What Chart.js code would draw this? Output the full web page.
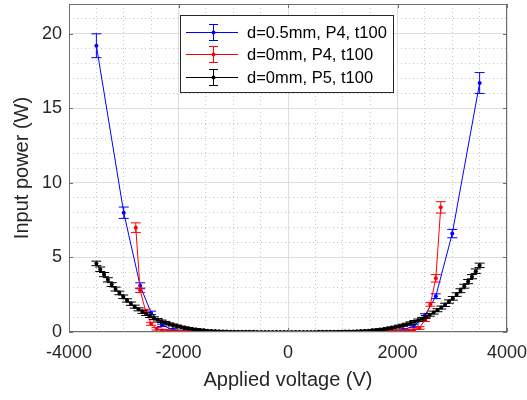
<!DOCTYPE html>
<html>
<head>
<meta charset="utf-8">
<script src="https://cdn.jsdelivr.net/npm/chart.js@4.4.1/dist/chart.umd.min.js"></script>
<style>
  html, body { margin: 0; padding: 0; background: #fff; }
  canvas { display: block; }
</style>
</head>
<body>
<canvas id="grafico" width="527" height="400"></canvas>
<script>
// Serie azul: d=0.5mm, P4, t100
const blueV = [-3500, -3000, -2700, -2500, -2300, -2100, -1900, -1700, 1700, 1900, 2100, 2300, 2500, 2700, 3000, 3500];
const blueP = [19.2, 8.0, 3.1, 1.28, 0.45, 0.16, 0.07, 0.03, 0.03, 0.07, 0.15, 0.4, 1.1, 2.4, 6.6, 16.7];
const blueErr = [0.8, 0.38, 0.2, 0.12, 0.08, 0.06, 0.05, 0.05, 0.05, 0.05, 0.06, 0.08, 0.12, 0.16, 0.28, 0.7];

// Serie roja: d=0mm, P4, t100
const redV = [-2780, -2700, -2600, -2500, -2400, -2300, -2200, -2100, -2000, -1900, -1800, -1700, -1600, -1500,
  1000, 1100, 1200, 1300, 1400, 1500, 1600, 1700, 1800, 1900, 2000, 2100, 2200, 2300, 2400, 2500, 2600, 2700, 2790];
const redP = [7.0, 2.8, 1.4, 0.55, 0.22, 0.1, 0.06, 0.04, 0.03, 0.03, 0.02, 0.02, 0.02, 0.02,
  0.02, 0.02, 0.02, 0.02, 0.03, 0.03, 0.03, 0.03, 0.04, 0.04, 0.05, 0.06, 0.08, 0.12, 0.27, 0.8, 1.85, 3.6, 8.36];
const redErr = [0.32, 0.15, 0.12, 0.1, 0.09, 0.08, 0.08, 0.08, 0.08, 0.08, 0.08, 0.08, 0.08, 0.08,
  0.08, 0.08, 0.08, 0.08, 0.08, 0.08, 0.08, 0.08, 0.08, 0.08, 0.08, 0.08, 0.08, 0.08, 0.09, 0.1, 0.12, 0.25, 0.38];

// Serie negra: d=0mm, P5, t100
const blackV = [-3500, -3430, -3360, -3290, -3220, -3150, -3080, -3010, -2940, -2870, -2800, -2730, -2660, -2590, -2520,
  -2450, -2380, -2310, -2240, -2170, -2100, -2030, -1960, -1890, -1820, -1750, -1680, -1610, -1540, -1470, -1400,
  -1330, -1260, -1190, -1120, -1050, -980, -910, -840, -770, -700, -630, -560, -490, -420, -350, -280, -210, -140, -70,
  0,
  70, 140, 210, 280, 350, 420, 490, 560, 630, 700, 770, 840, 910, 980, 1050, 1120, 1190, 1260, 1330, 1400,
  1470, 1540, 1610, 1680, 1750, 1820, 1890, 1960, 2030, 2100, 2170, 2240, 2310, 2380, 2450, 2520, 2590, 2660,
  2730, 2800, 2870, 2940, 3010, 3080, 3150, 3220, 3290, 3360, 3430, 3500];
const blackP = [4.60, 4.21, 3.85, 3.50, 3.18, 2.88, 2.62, 2.36, 2.12, 1.90, 1.70, 1.52, 1.35, 1.20, 1.06,
  0.93, 0.82, 0.72, 0.63, 0.54, 0.47, 0.40, 0.34, 0.29, 0.24, 0.20, 0.17, 0.14, 0.11, 0.09, 0.07,
  0.06, 0.05, 0.04, 0.03, 0.02, 0.02, 0.01, 0.01, 0.01, 0.01, 0.01, 0, 0, 0, 0, 0, 0, 0, 0,
  0,
  0, 0, 0, 0, 0, 0, 0, 0.01, 0.01, 0.01, 0.01, 0.01, 0.02, 0.02, 0.03, 0.03, 0.04, 0.05, 0.06, 0.07,
  0.09, 0.11, 0.14, 0.16, 0.19, 0.23, 0.28, 0.33, 0.39, 0.45, 0.52, 0.60, 0.69, 0.79, 0.89, 1.02, 1.15, 1.30,
  1.46, 1.64, 1.82, 2.04, 2.26, 2.51, 2.77, 3.07, 3.38, 3.71, 4.08, 4.47];
const blackErr = [0.15, 0.15, 0.14, 0.14, 0.13, 0.13, 0.12, 0.12, 0.11, 0.11, 0.1, 0.1, 0.1, 0.09, 0.09,
  0.09, 0.08, 0.08, 0.08, 0.07, 0.07, 0.07, 0.06, 0.06, 0.06, 0.05, 0.05, 0.05, 0.05, 0.04, 0.04,
  0.04, 0.04, 0.04, 0.04, 0.04, 0.04, 0.04, 0.04, 0.04, 0.04, 0.04, 0.04, 0.04, 0.04, 0.04, 0.04, 0.04, 0.04, 0.04,
  0.04,
  0.04, 0.04, 0.04, 0.04, 0.04, 0.04, 0.04, 0.04, 0.04, 0.04, 0.04, 0.04, 0.04, 0.04, 0.04, 0.04, 0.04, 0.04, 0.04, 0.04,
  0.04, 0.05, 0.05, 0.05, 0.05, 0.06, 0.06, 0.06, 0.07, 0.07, 0.07, 0.08, 0.08, 0.08, 0.09, 0.09, 0.09, 0.1,
  0.1, 0.1, 0.11, 0.11, 0.12, 0.12, 0.13, 0.13, 0.14, 0.14, 0.15, 0.15];

const etiquetas = ["d=0.5mm, P4, t100", "d=0mm, P4, t100", "d=0mm, P5, t100"];
const colores = ["#0000ff", "#ff0000", "#000000"];

const xTicksMayores = [-4000, -2000, 0, 2000, 4000];
const yTicksMayores = [0, 5, 10, 15, 20];

const toPts = (xs, ys) => xs.map((x, i) => ({ x: x, y: ys[i] }));

// Barras de error dibujadas con las escalas de Chart.js
const barrasError = {
    id: 'barrasError',
    afterDatasetDraw(chart, args) {
        const ds = chart.data.datasets[args.index];
        if (!ds.errores) return;
        const { ctx, chartArea } = chart;
        const yScale = chart.scales.y;
        ctx.save();
        ctx.beginPath();
        ctx.rect(chartArea.left, chartArea.top, chartArea.right - chartArea.left, chartArea.bottom - chartArea.top);
        ctx.clip();
        ctx.strokeStyle = ds.borderColor;
        ctx.lineWidth = 1;
        const cap = 5;
        args.meta.data.forEach((pt, i) => {
            const v = ds.data[i].y, e = ds.errores[i];
            const y1 = yScale.getPixelForValue(v + e);
            const y2 = yScale.getPixelForValue(v - e);
            ctx.beginPath();
            ctx.moveTo(pt.x, y1); ctx.lineTo(pt.x, y2);
            ctx.moveTo(pt.x - cap, y1); ctx.lineTo(pt.x + cap, y1);
            ctx.moveTo(pt.x - cap, y2); ctx.lineTo(pt.x + cap, y2);
            ctx.stroke();
        });
        ctx.restore();
    }
};

// Caja de ejes estilo MATLAB y leyenda
const cajaYLeyenda = {
    id: 'cajaYLeyenda',
    afterDraw(chart) {
        const { ctx, chartArea: a } = chart;
        const xs = chart.scales.x, ys = chart.scales.y;
        ctx.save();
        ctx.strokeStyle = '#6e6e6e';
        ctx.lineWidth = 1;
        ctx.strokeRect(a.left + 0.5, a.top + 0.5, a.right - a.left - 1, a.bottom - a.top - 1);
        ctx.beginPath();
        xTicksMayores.forEach(t => {
            const px = Math.round(xs.getPixelForValue(t)) + 0.5;
            ctx.moveTo(px, a.bottom); ctx.lineTo(px, a.bottom - 4);
            ctx.moveTo(px, a.top); ctx.lineTo(px, a.top + 4);
        });
        yTicksMayores.forEach(t => {
            const py = Math.round(ys.getPixelForValue(t)) + 0.5;
            ctx.moveTo(a.left, py); ctx.lineTo(a.left + 4, py);
            ctx.moveTo(a.right, py); ctx.lineTo(a.right - 4, py);
        });
        ctx.stroke();

        // leyenda
        const lx = 180, ly = 15, lw = 213, lh = 77;
        ctx.fillStyle = '#ffffff';
        ctx.fillRect(lx, ly, lw, lh);
        ctx.strokeStyle = '#262626';
        ctx.strokeRect(lx + 0.5, ly + 0.5, lw, lh);
        const filas = [32, 54, 77];
        ctx.font = '16.5px "Liberation Sans", Arial, sans-serif';
        ctx.textBaseline = 'middle';
        etiquetas.forEach((txt, i) => {
            const y = filas[i];
            ctx.strokeStyle = colores[i];
            ctx.fillStyle = colores[i];
            ctx.lineWidth = 1;
            ctx.beginPath();
            ctx.moveTo(186, y + 0.5); ctx.lineTo(238, y + 0.5);
            ctx.moveTo(213.5, y - 8); ctx.lineTo(213.5, y + 8);
            ctx.moveTo(209, y - 8 + 0.5); ctx.lineTo(218, y - 8 + 0.5);
            ctx.moveTo(209, y + 8 + 0.5); ctx.lineTo(218, y + 8 + 0.5);
            ctx.stroke();
            ctx.beginPath();
            ctx.arc(213.5, y + 0.5, 2, 0, Math.PI * 2);
            ctx.fill();
            ctx.fillStyle = '#000000';
            ctx.fillText(txt, 247, y + 1);
        });
        ctx.restore();
    }
};

const fuenteTicks = { family: '"Liberation Sans", Arial, sans-serif', size: 18 };
const fuenteTitulos = { family: '"Liberation Sans", Arial, sans-serif', size: 20 };

new Chart(document.getElementById('grafico').getContext('2d'), {
    type: 'line',
    data: {
        datasets: [
            { label: etiquetas[0], data: toPts(blueV, blueP), errores: blueErr, borderColor: colores[0], backgroundColor: colores[0], order: 2 },
            { label: etiquetas[1], data: toPts(redV, redP), errores: redErr, borderColor: colores[1], backgroundColor: colores[1], order: 1 },
            { label: etiquetas[2], data: toPts(blackV, blackP), errores: blackErr, borderColor: colores[2], backgroundColor: colores[2], order: 0 }
        ].map(d => Object.assign(d, { borderWidth: 1, pointRadius: 2, pointBorderWidth: 0, fill: false, tension: 0 }))
    },
    options: {
        responsive: false,
        animation: false,
        devicePixelRatio: 1,
        layout: { padding: { top: 2, right: 20, left: 0, bottom: 0 } },
        plugins: { legend: { display: false }, tooltip: { enabled: false } },
        scales: {
            x: {
                type: 'linear',
                min: -4000, max: 4000,
                afterFit: s => { s.height = 68; s.paddingLeft = 0; s.paddingRight = 0; },
                ticks: {
                    stepSize: 500, autoSkip: false, maxRotation: 0, padding: 10,
                    color: '#262626', font: fuenteTicks,
                    callback: v => v % 2000 === 0 ? v : ''
                },
                grid: {
                    drawTicks: false,
                    color: c => (c.tick && c.tick.value % 2000 === 0) ? '#dedede' : '#c8c8c8'
                },
                border: { display: false, dash: c => (c.tick && c.tick.value % 2000 !== 0) ? [1, 3] : [] },
                title: { display: true, text: 'Applied voltage (V)', color: '#262626', font: fuenteTitulos, padding: { top: 0, bottom: 8 } }
            },
            y: {
                min: 0, max: 22,
                afterFit: s => { s.width = 69; s.paddingTop = 0; s.paddingBottom = 0; },
                ticks: {
                    stepSize: 1, autoSkip: false, padding: 7,
                    color: '#262626', font: fuenteTicks,
                    callback: v => v % 5 === 0 ? v : ''
                },
                grid: {
                    drawTicks: false,
                    color: c => (c.tick && c.tick.value % 5 === 0) ? '#dedede' : '#c8c8c8'
                },
                border: { display: false, dash: c => (c.tick && c.tick.value % 5 !== 0) ? [1, 3] : [] },
                title: { display: true, text: 'Input power (W)', color: '#262626', font: fuenteTitulos, padding: { top: 10, bottom: 0 } }
            }
        }
    },
    plugins: [barrasError, cajaYLeyenda]
});
</script>
</body>
</html>
